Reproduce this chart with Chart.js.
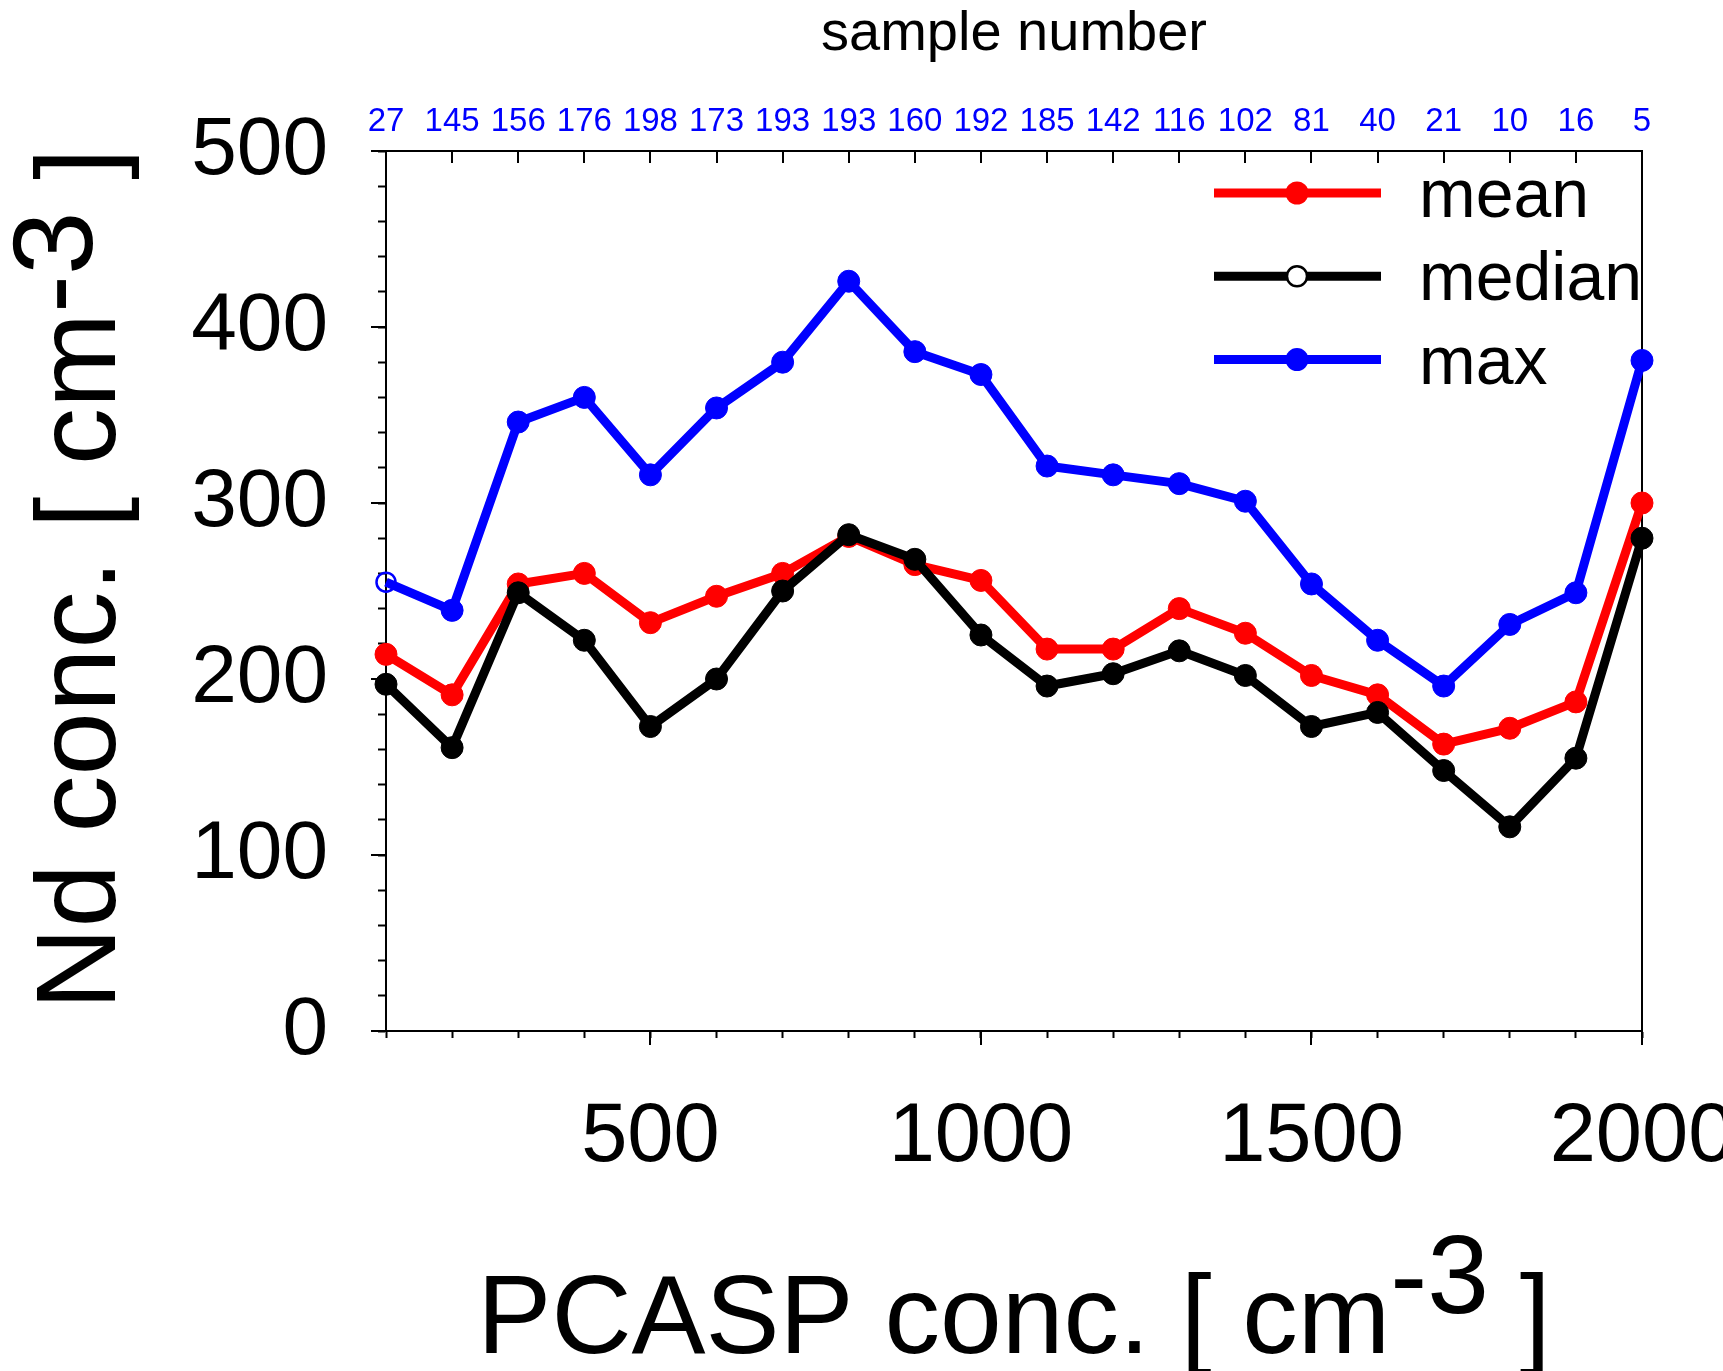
<!DOCTYPE html>
<html>
<head>
<meta charset="utf-8">
<title>Nd vs PCASP concentration</title>
<script src="https://cdn.jsdelivr.net/npm/chart.js@4.4.1/dist/chart.umd.min.js"></script>
<style>
  html, body { margin: 0; padding: 0; background: #fff; overflow: hidden; }
</style>
</head>
<body>
<canvas id="chart" width="1723" height="1371"></canvas>
<script>
// PCASP concentration bins [cm-3]
const pcasp = [100, 200, 300, 400, 500, 600, 700, 800, 900, 1000,
               1100, 1200, 1300, 1400, 1500, 1600, 1700, 1800, 1900, 2000];
// number of samples in each bin (top axis)
const sampleCounts = [27, 145, 156, 176, 198, 173, 193, 193, 160, 192,
                      185, 142, 116, 102, 81, 40, 21, 10, 16, 5];
// Nd concentration [cm-3]
const meanNd   = [214, 191, 254, 260, 232, 247, 260, 281, 265, 256,
                  217, 217, 240, 226, 202, 191, 163, 172, 187, 300];
const medianNd = [197, 161, 249, 222, 173, 200, 250, 282, 268, 225,
                  196, 203, 216, 202, 173, 181, 148, 116, 155, 280];
const maxNd    = [255, 239, 346, 360, 316, 354, 380, 426, 386, 373,
                  321, 316, 311, 301, 254, 222, 196, 231, 249, 381];
// labelled ticks
const xLabelTicks = [500, 1000, 1500, 2000];
const yLabelTicks = [0, 100, 200, 300, 400, 500];

const FONT = "'Liberation Sans', Arial, Helvetica, sans-serif";
const RED = '#ff0000';
const BLUE = '#0000ff';
const BLACK = '#000000';

function series(values) {
    return pcasp.map((x, i) => ({ x: x, y: values[i] }));
}

// draws a text made of pieces, some of them raised (superscript)
function drawPieces(ctx, pieces, cx, baseline, size) {
    ctx.font = size + 'px ' + FONT;
    const total = pieces.reduce((w, p) => w + ctx.measureText(p.text).width, 0);
    let x = cx - total / 2;
    pieces.forEach(p => {
        ctx.fillText(p.text, x, baseline - (p.rise || 0));
        x += ctx.measureText(p.text).width;
    });
}

// inward top ticks, long major ticks, axis titles and the line+marker legend
const decorPlugin = {
    id: 'decor',
    afterDraw(chart) {
        const ctx = chart.ctx;
        const ca = chart.chartArea;
        const xs = chart.scales.x;
        const ys = chart.scales.y;
        ctx.save();

        ctx.strokeStyle = BLACK;
        ctx.lineWidth = 2;
        ctx.beginPath();
        // top axis: ticks point into the plot
        pcasp.forEach(v => {
            const px = Math.round(xs.getPixelForValue(v));
            ctx.moveTo(px, ca.top);
            ctx.lineTo(px, ca.top + 12);
        });
        // longer major ticks
        yLabelTicks.forEach(v => {
            const py = Math.round(ys.getPixelForValue(v));
            ctx.moveTo(ca.left - 15, py);
            ctx.lineTo(ca.left, py);
        });
        xLabelTicks.forEach(v => {
            const px = Math.round(xs.getPixelForValue(v));
            ctx.moveTo(px, ca.bottom);
            ctx.lineTo(px, ca.bottom + 14);
        });
        ctx.stroke();

        // axis titles
        ctx.fillStyle = BLACK;
        ctx.textAlign = 'left';
        ctx.textBaseline = 'alphabetic';
        drawPieces(ctx, [{ text: 'PCASP conc. [ cm' }, { text: '-3', rise: 40 }, { text: ' ]' }],
                   (ca.left + ca.right) / 2, 1353, 111);

        ctx.save();
        ctx.translate(115, 579);
        ctx.rotate(-Math.PI / 2);
        drawPieces(ctx, [{ text: 'Nd conc. [ cm' }, { text: '-3', rise: 23 }, { text: ' ]' }],
                   0, 0, 114);
        ctx.restore();

        // legend
        const lx1 = ca.right - 428;
        const lx2 = ca.right - 261;
        const mx = ca.right - 345;
        chart.data.datasets.forEach((ds, i) => {
            const ly = ca.top + 42 + i * 83.3;
            ctx.strokeStyle = ds.borderColor;
            ctx.lineWidth = 9;
            ctx.beginPath();
            ctx.moveTo(lx1, ly);
            ctx.lineTo(lx2, ly);
            ctx.stroke();
            ctx.beginPath();
            ctx.arc(mx, ly, ds.legendHollow ? 10 : 11.5, 0, Math.PI * 2);
            if (ds.legendHollow) {
                ctx.fillStyle = '#ffffff';
                ctx.fill();
                ctx.lineWidth = 2.5;
                ctx.stroke();
            } else {
                ctx.fillStyle = ds.borderColor;
                ctx.fill();
            }
            ctx.fillStyle = BLACK;
            ctx.font = '68px ' + FONT;
            ctx.fillText(ds.label, ca.right - 223, ly + 24);
        });
        ctx.restore();
    }
};

const ctx = document.getElementById('chart').getContext('2d');
new Chart(ctx, {
    type: 'line',
    data: {
        datasets: [{
            label: 'mean',
            data: series(meanNd),
            borderColor: RED,
            backgroundColor: RED,
            pointBackgroundColor: RED,
            pointBorderColor: RED,
            order: 2
        }, {
            label: 'median',
            data: series(medianNd),
            borderColor: BLACK,
            backgroundColor: BLACK,
            pointBackgroundColor: BLACK,
            pointBorderColor: BLACK,
            legendHollow: true,
            order: 1
        }, {
            label: 'max',
            data: series(maxNd),
            borderColor: BLUE,
            backgroundColor: BLUE,
            pointBorderColor: BLUE,
            // first bin is drawn as an open circle
            pointBackgroundColor: c => c.dataIndex === 0 ? 'rgba(0,0,0,0)' : BLUE,
            pointRadius: c => c.dataIndex === 0 ? 9.5 : 11,
            pointBorderWidth: c => c.dataIndex === 0 ? 2.5 : 1,
            order: 0
        }]
    },
    options: {
        responsive: false,
        animation: false,
        layout: { padding: 0 },
        datasets: {
            line: { xAxisID: 'x', yAxisID: 'y', clip: false }
        },
        elements: {
            line: { borderWidth: 9, tension: 0, borderJoinStyle: 'round', fill: false },
            point: { radius: 11, borderWidth: 1 }
        },
        plugins: {
            legend: { display: false },
            tooltip: { enabled: false }
        },
        scales: {
            x: {
                type: 'linear',
                position: 'bottom',
                min: 100,
                max: 2000,
                ticks: {
                    stepSize: 100,
                    autoSkip: false,
                    maxRotation: 0,
                    minRotation: 0,
                    padding: 50,
                    color: BLACK,
                    font: { family: FONT, size: 83 },
                    callback: v => xLabelTicks.includes(Math.round(v)) ? String(Math.round(v)) : ''
                },
                grid: { drawOnChartArea: false, tickLength: 7, tickWidth: 2, tickColor: BLACK },
                border: { color: BLACK, width: 2 },
                afterFit: s => { s.height = 340; s.paddingLeft = 0; s.paddingRight = 0; }
            },
            x2: {
                type: 'linear',
                position: 'top',
                min: 100,
                max: 2000,
                ticks: {
                    stepSize: 100,
                    autoSkip: false,
                    maxRotation: 0,
                    minRotation: 0,
                    padding: 9,
                    color: BLUE,
                    font: { family: FONT, size: 33 },
                    callback: v => {
                        const i = pcasp.indexOf(Math.round(v));
                        return i >= 0 ? String(sampleCounts[i]) : '';
                    }
                },
                grid: { drawOnChartArea: false, drawTicks: false },
                border: { color: BLACK, width: 2 },
                title: {
                    display: true,
                    text: 'sample number',
                    color: BLACK,
                    font: { family: FONT, size: 56 },
                    padding: { top: 1, bottom: 0 }
                },
                afterFit: s => { s.height = 151; s.paddingLeft = 0; s.paddingRight = 0; }
            },
            y: {
                type: 'linear',
                position: 'left',
                min: 0,
                max: 500,
                ticks: {
                    stepSize: 20,
                    autoSkip: false,
                    padding: 50,
                    color: BLACK,
                    font: { family: FONT, size: 82 },
                    callback: v => yLabelTicks.includes(Math.round(v)) ? String(Math.round(v)) : ''
                },
                grid: { drawOnChartArea: false, tickLength: 8, tickWidth: 2, tickColor: BLACK },
                border: { color: BLACK, width: 2 },
                afterFit: s => { s.width = 386; s.paddingTop = 0; s.paddingBottom = 0; }
            },
            y2: {
                type: 'linear',
                position: 'right',
                min: 0,
                max: 500,
                ticks: { display: false },
                grid: { drawOnChartArea: false, drawTicks: false },
                border: { color: BLACK, width: 2 },
                afterFit: s => { s.width = 81; s.paddingTop = 0; s.paddingBottom = 0; }
            }
        }
    },
    plugins: [decorPlugin]
});
</script>
</body>
</html>
